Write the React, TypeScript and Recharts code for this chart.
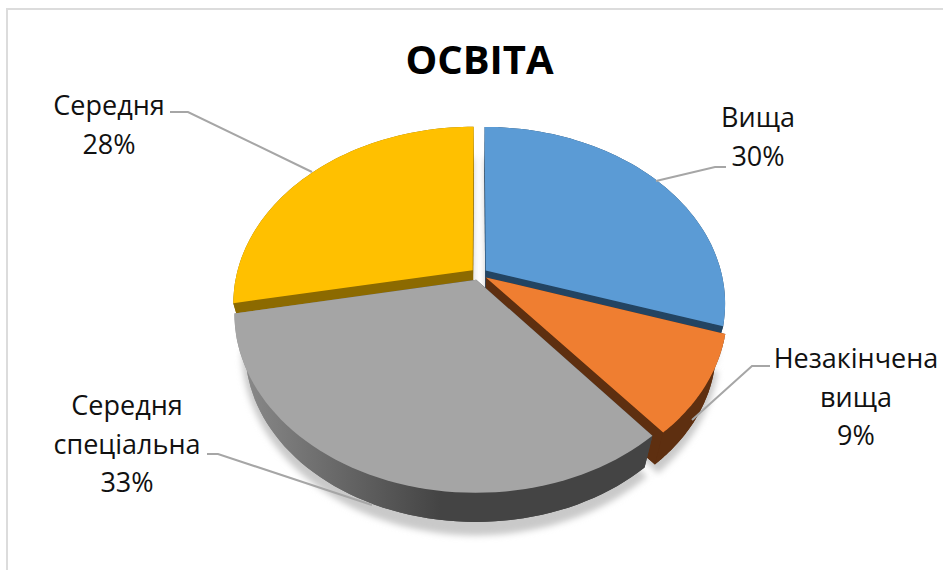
import { Pie, PieChart } from "recharts";

// slice order is also the paint order: back slices first, grey one in front
const categories = ["Середня", "Вища", "Незакінчена вища", "Середня спеціальна"];
const shares = [28, 30, 9, 33];
const topColors = ["#FFC000", "#5B9BD5", "#EF7E31", "#A5A5A5"];
const sideColors = ["#8C6A00", "#234462", "#5E2F10", "url(#greyWall)"];

const labelLines = [["Середня"], ["Вища"], ["Незакінчена", "вища"], ["Середня", "спеціальна"]];
const labelSpots = [
  { x: 109, y: 115, leader: "170,112 188,112 312,172" },
  { x: 758, y: 127, leader: "726,167 715,167 656,181" },
  { x: 856, y: 368, leader: "770,366 752,366 692,420" },
  { x: 127, y: 415, leader: "207,454 218,454 372,505" },
];

const table = categories.map((name, i) => ({
  name,
  value: shares[i],
  fill: topColors[i],
  side: sideColors[i],
}));

const FONT = "'Open Sans', sans-serif";
const TILT = 0.726; // vertical squash of the disc
const PERSPECTIVE = 0.185;
const EXPLODE = 0.035;

type Pt = [number, number];

function toPath(pts: Pt[]) {
  return "M" + pts.map((p) => `${p[0].toFixed(1)} ${p[1].toFixed(1)}`).join("L") + "Z";
}

// 3d look: angles come from the pie, we only project them on a tilted disc
function sliceGeometry(props: any) {
  const { cx, cy, outerRadius, startAngle, endAngle } = props;
  const rad = Math.PI / 180;
  const mid = ((startAngle + endAngle) / 2) * rad;
  const ou = Math.cos(mid) * EXPLODE;
  const ov = -Math.sin(mid) * EXPLODE;
  const project = (u: number, v: number): Pt => {
    const s = 1 / (1 - PERSPECTIVE * v);
    return [cx + outerRadius * u * s, cy + outerRadius * TILT * v * s];
  };
  const apex = project(ou, ov);
  const arc: Pt[] = [];
  const steps = 60;
  for (let i = 0; i <= steps; i++) {
    const a = (startAngle + ((endAngle - startAngle) * i) / steps) * rad;
    arc.push(project(ou + Math.cos(a), ov - Math.sin(a)));
  }
  const lower = (p: Pt, sx: number, sy: number, dy: number): Pt => [
    cx + (p[0] - cx) * sx,
    cy + (p[1] - cy) * sy + dy,
  ];
  return { apex, arc, lower };
}

function ShadowSlice(props: any) {
  const { apex, arc, lower } = sliceGeometry(props);
  const pts = [apex, ...arc].map((p) => lower(p, 0.97, 1.03, 36));
  return <path d={toPath(pts)} fill="#c9c9c9" filter="url(#softShadow)" />;
}

function Slice(props: any) {
  const { apex, arc, lower } = sliceGeometry(props);
  const { fill, payload } = props;
  const side = payload.side;
  const low = (p: Pt) => lower(p, 0.955, 0.955, 39);
  const first = arc[0];
  const last = arc[arc.length - 1];
  return (
    <g>
      <path d={toPath([low(apex), ...arc.map(low)])} fill={side} />
      <path d={toPath([apex, first, low(first), low(apex)])} fill={side} />
      <path d={toPath([apex, last, low(last), low(apex)])} fill={side} />
      <path d={toPath([...arc, ...arc.map(low).reverse()])} fill={side} />
      <path d={toPath([apex, ...arc])} fill={fill} />
    </g>
  );
}

function SliceLabel(props: any) {
  const i = categories.indexOf(props.name);
  const spot = labelSpots[i];
  const rows = [...labelLines[i], `${Math.round(props.percent * 100)}%`];
  return (
    <g>
      <polyline points={spot.leader} fill="none" stroke="#A6A6A6" strokeWidth={2} />
      <text x={spot.x} textAnchor="middle" fontFamily={FONT} fontSize={27} fill="#111">
        {rows.map((row, r) => (
          <tspan key={row} x={spot.x} y={spot.y + r * 38.5}>
            {row}
          </tspan>
        ))}
      </text>
    </g>
  );
}

export default function App() {
  return (
    <div style={{ position: "absolute", left: 0, top: 0, width: 943, height: 570, background: "#fff" }}>
      <div
        style={{
          position: "absolute",
          left: 6,
          top: 8,
          width: 937,
          height: 562,
          boxSizing: "border-box",
          borderLeft: "2px solid #dcdcdc",
          borderTop: "2px solid #dcdcdc",
        }}
      />
      <div
        style={{
          position: "absolute",
          left: 0,
          width: 959,
          top: 33,
          textAlign: "center",
          fontFamily: FONT,
          fontWeight: 700,
          fontSize: 40,
          lineHeight: "52px",
          color: "#000",
        }}
      >
        ОСВІТА
      </div>
      <div style={{ position: "absolute", left: 0, top: 0 }}>
        <PieChart width={943} height={570} margin={{ top: 0, right: 0, bottom: 0, left: 0 }}>
          <defs>
            <linearGradient id="greyWall" gradientUnits="userSpaceOnUse" x1="235" y1="0" x2="440" y2="0">
              <stop offset="0" stopColor="#8c8c8c" />
              <stop offset="1" stopColor="#444444" />
            </linearGradient>
            <filter id="softShadow" x="-20%" y="-20%" width="140%" height="140%">
              <feGaussianBlur stdDeviation="3" />
            </filter>
          </defs>
          <Pie
            data={table}
            dataKey="value"
            nameKey="name"
            cx={479}
            cy={274}
            outerRadius={236}
            startAngle={190.8}
            endAngle={-169.2}
            stroke="none"
            shape={ShadowSlice}
            isAnimationActive={false}
          />
          <Pie
            data={table}
            dataKey="value"
            nameKey="name"
            cx={479}
            cy={274}
            outerRadius={236}
            startAngle={190.8}
            endAngle={-169.2}
            stroke="none"
            shape={Slice}
            label={SliceLabel}
            labelLine={false}
            isAnimationActive={false}
          />
        </PieChart>
      </div>
    </div>
  );
}
